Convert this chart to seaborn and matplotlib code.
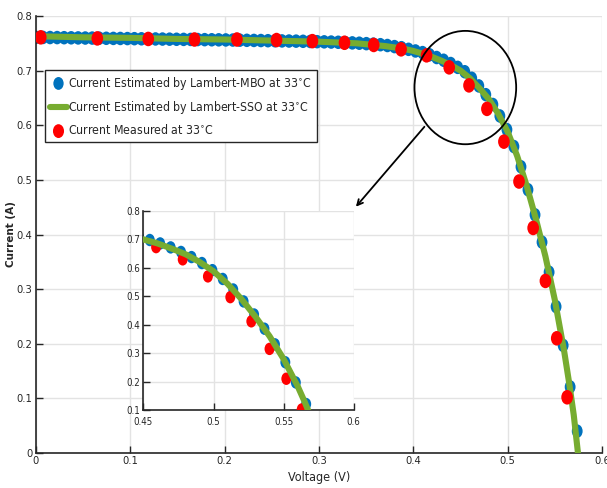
import numpy as np
import pandas as pd
import matplotlib
matplotlib.use("Agg")
import matplotlib.pyplot as plt
import seaborn as sns
from matplotlib.patches import Ellipse
from matplotlib.path import Path
from matplotlib.transforms import Affine2D
from matplotlib.font_manager import FontProperties

# Lambert-MBO estimate (blue dots)
v_mbo = [0.0000, 0.0075, 0.0149, 0.0224, 0.0298, 0.0373, 0.0447, 0.0522, 0.0596, 0.0671,
         0.0745, 0.0820, 0.0894, 0.0969, 0.1043, 0.1118, 0.1192, 0.1267, 0.1341, 0.1416,
         0.1490, 0.1565, 0.1639, 0.1714, 0.1788, 0.1863, 0.1937, 0.2012, 0.2086, 0.2161,
         0.2235, 0.2310, 0.2384, 0.2459, 0.2533, 0.2608, 0.2682, 0.2757, 0.2831, 0.2906,
         0.2980, 0.3055, 0.3129, 0.3204, 0.3278, 0.3353, 0.3427, 0.3502, 0.3576, 0.3651,
         0.3725, 0.3800, 0.3874, 0.3949, 0.4023, 0.4098, 0.4172, 0.4247, 0.4321, 0.4396,
         0.4470, 0.4545, 0.4619, 0.4694, 0.4768, 0.4843, 0.4917, 0.4992, 0.5066, 0.5141,
         0.5215, 0.5290, 0.5364, 0.5439, 0.5513, 0.5588, 0.5662, 0.5737]
i_mbo = [0.7610, 0.7608, 0.7606, 0.7605, 0.7603, 0.7601, 0.7599, 0.7597, 0.7596, 0.7594,
         0.7592, 0.7590, 0.7589, 0.7587, 0.7585, 0.7583, 0.7581, 0.7580, 0.7578, 0.7576,
         0.7574, 0.7572, 0.7571, 0.7569, 0.7567, 0.7565, 0.7564, 0.7562, 0.7560, 0.7558,
         0.7555, 0.7553, 0.7551, 0.7548, 0.7547, 0.7544, 0.7542, 0.7540, 0.7537, 0.7534,
         0.7530, 0.7527, 0.7523, 0.7519, 0.7513, 0.7508, 0.7502, 0.7494, 0.7485, 0.7475,
         0.7460, 0.7440, 0.7420, 0.7390, 0.7360, 0.7330, 0.7290, 0.7240, 0.7190, 0.7130,
         0.7060, 0.6980, 0.6860, 0.6720, 0.6560, 0.6380, 0.6170, 0.5920, 0.5610, 0.5240,
         0.4820, 0.4360, 0.3860, 0.3310, 0.2680, 0.1970, 0.1210, 0.0400]

# Lambert-SSO estimate (green line)
v_sso = [0.000, 0.050, 0.100, 0.150, 0.200, 0.250, 0.300, 0.340, 0.370, 0.390, 0.400,
         0.410, 0.420, 0.430, 0.440, 0.450, 0.460, 0.470, 0.480, 0.490, 0.500, 0.510,
         0.520, 0.530, 0.540, 0.550, 0.560, 0.565, 0.570, 0.5745]
i_sso = [0.763, 0.761, 0.760, 0.758, 0.757, 0.755, 0.753, 0.750, 0.745, 0.740, 0.736,
         0.731, 0.725, 0.718, 0.710, 0.700, 0.686, 0.668, 0.648, 0.621, 0.588, 0.544,
         0.490, 0.428, 0.360, 0.280, 0.185, 0.130, 0.070, 0.000]

# Measured (red dots)
v_meas = [0.005, 0.065, 0.119, 0.168, 0.213, 0.255, 0.293, 0.327, 0.358, 0.387,
          0.414, 0.438, 0.459, 0.478, 0.496, 0.512, 0.527, 0.540, 0.552, 0.563]
i_meas = [0.761, 0.759, 0.758, 0.757, 0.757, 0.756, 0.754, 0.751, 0.747, 0.739,
          0.728, 0.706, 0.673, 0.630, 0.570, 0.497, 0.412, 0.315, 0.210, 0.102]

x_ticks = [0, 0.1, 0.2, 0.3, 0.4, 0.5, 0.6]
y_ticks = [0, 0.1, 0.2, 0.3, 0.4, 0.5, 0.6, 0.7, 0.8]
inset_x_ticks = [0.45, 0.5, 0.55, 0.6]
inset_y_ticks = [0.1, 0.2, 0.3, 0.4, 0.5, 0.6, 0.7, 0.8]

lbl_mbo = "Current Estimated by Lambert-MBO at 33$^{\\circ}$C"
lbl_sso = "Current Estimated by Lambert-SSO at 33$^{\\circ}$C"
lbl_meas = "Current Measured at 33$^{\\circ}$C"

df_mbo = pd.DataFrame({"V": v_mbo, "I": i_mbo})
df_sso = pd.DataFrame({"V": v_sso, "I": i_sso})
df_meas = pd.DataFrame({"V": v_meas, "I": i_meas})

sns.set_style("white")
plt.rcParams["font.family"] = ["DejaVu Sans"]
plt.rcParams["font.stretch"] = "condensed"
plt.rcParams["mathtext.fontset"] = "dejavusans"

BLUE = "#0072BD"
GREEN = "#77AC30"
RED = "#FF0000"
GRID = "#e3e3e3"

# slightly tall oval marker
oval = Path.unit_circle().transformed(Affine2D().scale(0.8, 1.0))

fig = plt.figure(figsize=(6.07, 4.88), dpi=100)
ax = fig.add_axes([0.0593, 0.0717, 0.9325, 0.8955])


def style_axes(a, xt, yt, fs, xpad=2.5):
    a.set_xticks(xt)
    a.set_yticks(yt)
    a.set_xticklabels([f"{t:g}" for t in xt])
    a.set_yticklabels([f"{t:g}" for t in yt])
    a.grid(True, color=GRID, linewidth=1)
    a.set_axisbelow(True)
    for s in ["top", "right"]:
        a.spines[s].set_visible(False)
    for s in ["left", "bottom"]:
        a.spines[s].set_color("#262626")
        a.spines[s].set_linewidth(1.2)
    a.tick_params(direction="in", length=5, width=1, colors="#262626",
                  labelsize=fs, left=True, bottom=True, pad=2.5)
    a.tick_params(axis="x", pad=xpad)


sns.scatterplot(data=df_mbo, x="V", y="I", ax=ax, color=BLUE, marker=oval, s=95,
                edgecolor="none", label=lbl_mbo, zorder=2)
sns.lineplot(data=df_sso, x="V", y="I", ax=ax, color=GREEN, linewidth=4.4,
             label=lbl_sso, zorder=3)
sns.scatterplot(data=df_meas, x="V", y="I", ax=ax, color=RED, marker=oval, s=110,
                edgecolor="none", label=lbl_meas, zorder=4)

ax.set_xlim(0, 0.6)
ax.set_ylim(0, 0.8)
style_axes(ax, x_ticks, y_ticks, 8)
ax.set_xlabel("Voltage (V)", fontsize=9, labelpad=3)
ax.set_ylabel("Current (A)", fontsize=7.5, fontweight="bold", fontstretch="normal")
ax.yaxis.set_label_coords(-0.036, 0.5)

leg = ax.legend(loc="upper left", bbox_to_anchor=(0.016, 0.877), borderaxespad=0,
                prop=FontProperties(family="DejaVu Sans", stretch="condensed", size=8.8),
                frameon=True, fancybox=False, framealpha=1,
                edgecolor="#262626", handlelength=1.4, handletextpad=0.05,
                labelspacing=0.6, borderpad=0.4, markerscale=0.95)
leg.get_frame().set_linewidth(1.0)

# zoom circle and arrow
ax.add_patch(Ellipse((0.4551, 0.669), 0.1078, 0.2075, fill=False,
                     edgecolor="black", linewidth=1.3, zorder=6))
ax.annotate("", xy=(0.3372, 0.447), xytext=(0.4136, 0.601),
            arrowprops=dict(arrowstyle="->", color="black", lw=1.3), zorder=6)

# inset
axin = fig.add_axes([0.2364, 0.1598, 0.346, 0.4078])
axin.set_facecolor("white")
sns.scatterplot(data=df_mbo, x="V", y="I", ax=axin, color=BLUE, marker=oval, s=80,
                edgecolor="none", legend=False, zorder=2)
sns.scatterplot(data=df_meas, x="V", y="I", ax=axin, color=RED, marker=oval, s=80,
                edgecolor="none", legend=False, zorder=3)
sns.lineplot(data=df_sso, x="V", y="I", ax=axin, color=GREEN, linewidth=4.4,
             legend=False, zorder=4)
axin.set_xlim(0.45, 0.6)
axin.set_ylim(0.1, 0.8)
style_axes(axin, inset_x_ticks, inset_y_ticks, 7, xpad=5)
axin.set_xlabel("")
axin.set_ylabel("")

fig.savefig("out.png", dpi=100)
